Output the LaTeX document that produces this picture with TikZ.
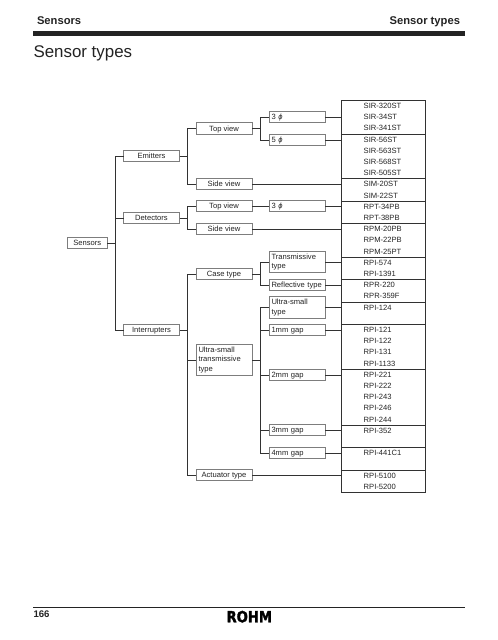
\documentclass[tikz,border=0pt]{standalone}
\usepackage{fontspec}
\usepackage{xcolor}
\usepackage{tikz}
\usetikzlibrary{positioning, fit}
\setmainfont{Liberation Sans}
\newfontfamily\logofont{DejaVu Sans}[BoldFeatures={FakeBold=2}]
\definecolor{softink}{RGB}{35,35,35}
\definecolor{boxgray}{RGB}{125,125,125}
\definecolor{linedark}{RGB}{50,50,50}

\begin{document}
\begin{tikzpicture}[
    every node/.style={font=\fontsize{7.6}{9.3}\selectfont, text=softink, inner sep=0pt, outer sep=0pt},
    levelbox/.style={
        rectangle,
        draw=boxgray,
        line width=0.7pt,
        fill=white,
        align=center,
        text height=5.4pt,
        text depth=0pt,
        minimum width=56pt,
        minimum height=11.5pt
    },
    rootbox/.style={
        levelbox,
        minimum width=39.5pt
    },
    notebox/.style={
        rectangle,
        draw=boxgray,
        line width=0.7pt,
        fill=white,
        align=left,
        text width=51pt,
        minimum height=11.5pt,
        inner xsep=2.5pt,
        inner ysep=2.5pt
    },
    noteline/.style={
        notebox,
        inner ysep=1.5pt,
        text height=5.4pt,
        text depth=0pt
    },
    tablegroup/.style={
        rectangle,
        draw=linedark,
        line width=0.5pt,
        font=\fontsize{7.6}{11.2}\selectfont,
        align=left,
        text width=39.3pt,
        inner xsep=22pt,
        minimum height=#1*11.2pt
    },
    tableframe/.style={
        rectangle,
        draw=linedark,
        line width=1pt,
        inner sep=0pt
    },
    link/.style={draw=linedark, line width=0.8pt},
    pagehead/.style={font=\fontsize{11.2}{13}\selectfont\bfseries}
]

\useasboundingbox (0,0) rectangle (498pt,-640pt);

\node[pagehead, anchor=base west] (headleft) at (37pt,-24.3pt) {Sensors};
\node[pagehead, anchor=base east] (headright) at (460pt,-24.3pt) {Sensor types};
\node[fill=softink, minimum width=432pt, minimum height=4.7pt] (headbar) at (249pt,-33.5pt) {};
\node[anchor=base west, font=\fontsize{16.9}{20}\selectfont] (pagetitle) at (33.5pt,-57.3pt) {Sensor types};

\node[rootbox] (sensors) at (87.25pt,-243pt) {Sensors};
\node[levelbox, right=16.5pt of sensors, yshift=87pt] (emitters) {Emitters};
\node[levelbox, right=16.5pt of sensors, yshift=25pt] (detectors) {Detectors};
\node[levelbox, right=16.5pt of sensors, yshift=-87pt] (interrupters) {Interrupters};

\node[levelbox, right=16.5pt of emitters, yshift=27.5pt] (emittop) {Top view};
\node[levelbox, right=16.5pt of emitters, yshift=-28pt] (emitside) {Side view};
\node[levelbox, right=16.5pt of detectors, yshift=12pt] (dettop) {Top view};
\node[levelbox, right=16.5pt of detectors, yshift=-11pt] (detside) {Side view};
\node[levelbox, right=16.5pt of interrupters, yshift=56pt] (casetype) {Case type};
\node[notebox, right=16.5pt of interrupters, yshift=-30pt] (ultratrans) {Ultra-small\\transmissive\\type};
\node[levelbox, right=16.5pt of interrupters, yshift=-145pt] (actuator) {Actuator type};

\node[noteline, right=17pt of emittop, yshift=11.5pt] (threeA) {3 \textit{ϕ}};
\node[noteline, right=17pt of emittop, yshift=-11.5pt] (fiveA) {5 \textit{ϕ}};
\node[noteline, right=17pt of dettop] (threeB) {3 \textit{ϕ}};
\node[notebox, right=17pt of casetype, yshift=12pt] (transmissive) {Transmissive\\type};
\node[noteline, right=17pt of casetype, yshift=-11pt] (reflective) {\mbox{Reflective type}};
\node[notebox, right=17pt of ultratrans, yshift=52.5pt] (ultrasmall) {Ultra-small\\type};
\node[noteline, right=17pt of ultratrans, yshift=30pt] (gapone) {1mm gap};
\node[noteline, right=17pt of ultratrans, yshift=-15pt] (gaptwo) {2mm gap};
\node[noteline, right=17pt of ultratrans, yshift=-70pt] (gapthree) {3mm gap};
\node[noteline, right=17pt of ultratrans, yshift=-93pt] (gapfour) {4mm gap};

\node[tablegroup=3, right=16.7pt of threeA] (groupA) {SIR-320ST\\SIR-34ST\\SIR-341ST};
\node[tablegroup=4, below=0pt of groupA] (groupB) {SIR-56ST\\SIR-563ST\\SIR-568ST\\SIR-505ST};
\node[tablegroup=2, below=0pt of groupB] (groupC) {SIM-20ST\\SIM-22ST};
\node[tablegroup=2, below=0pt of groupC] (groupD) {RPT-34PB\\RPT-38PB};
\node[tablegroup=3, below=0pt of groupD] (groupE) {RPM-20PB\\RPM-22PB\\RPM-25PT};
\node[tablegroup=2, below=0pt of groupE] (groupF) {RPI-574\\RPI-1391};
\node[tablegroup=2, below=0pt of groupF] (groupG) {RPR-220\\RPR-359F};
\node[tablegroup=2, below=0pt of groupG] (groupH) {RPI-124\\\phantom{R}};
\node[tablegroup=4, below=0pt of groupH] (groupI) {RPI-121\\RPI-122\\RPI-131\\RPI-1133};
\node[tablegroup=5, below=0pt of groupI] (groupJ) {RPI-221\\RPI-222\\RPI-243\\RPI-246\\RPI-244};
\node[tablegroup=2, below=0pt of groupJ] (groupK) {RPI-352\\\phantom{R}};
\node[tablegroup=2, below=0pt of groupK] (groupL) {RPI-441C1\\\phantom{R}};
\node[tablegroup=2, below=0pt of groupL] (groupM) {RPI-5100\\RPI-5200};
\node[tableframe, fit=(groupA)(groupM)] (sensortable) {};

\coordinate[right=8pt of sensors] (sensorsjoint);
\coordinate[right=8pt of emitters] (emittersjoint);
\coordinate[right=8pt of detectors] (detectorsjoint);
\coordinate[right=8pt of interrupters] (interruptersjoint);
\coordinate[right=8pt of emittop] (emittopjoint);
\coordinate[right=8pt of casetype] (casejoint);
\coordinate[right=8pt of ultratrans] (ultrajoint);

\draw[link] (sensors) -- (sensorsjoint);
\draw[link] (sensorsjoint) |- (emitters);
\draw[link] (sensorsjoint) |- (detectors);
\draw[link] (sensorsjoint) |- (interrupters);

\draw[link] (emitters) -- (emittersjoint);
\draw[link] (emittersjoint) |- (emittop);
\draw[link] (emittersjoint) |- (emitside);
\draw[link] (detectors) -- (detectorsjoint);
\draw[link] (detectorsjoint) |- (dettop);
\draw[link] (detectorsjoint) |- (detside);
\draw[link] (interrupters) -- (interruptersjoint);
\draw[link] (interruptersjoint) |- (casetype);
\draw[link] (interruptersjoint) |- (ultratrans);
\draw[link] (interruptersjoint) |- (actuator);

\draw[link] (emittop) -- (emittopjoint);
\draw[link] (emittopjoint) |- (threeA);
\draw[link] (emittopjoint) |- (fiveA);
\draw[link] (dettop) -- (threeB);
\draw[link] (casetype) -- (casejoint);
\draw[link] (casejoint) |- (transmissive);
\draw[link] (casejoint) |- (reflective);
\draw[link] (ultratrans) -- (ultrajoint);
\draw[link] (ultrajoint) |- (ultrasmall);
\draw[link] (ultrajoint) |- (gapone);
\draw[link] (ultrajoint) |- (gaptwo);
\draw[link] (ultrajoint) |- (gapthree);
\draw[link] (ultrajoint) |- (gapfour);

\draw[link] (threeA.east) -- (threeA.east -| sensortable.west);
\draw[link] (fiveA.east) -- (fiveA.east -| sensortable.west);
\draw[link] (threeB.east) -- (threeB.east -| sensortable.west);
\draw[link] (emitside.east) -- (emitside.east -| sensortable.west);
\draw[link] (detside.east) -- (detside.east -| sensortable.west);
\draw[link] (transmissive.east) -- (transmissive.east -| sensortable.west);
\draw[link] (reflective.east) -- (reflective.east -| sensortable.west);
\draw[link] (ultrasmall.east) -- (ultrasmall.east -| sensortable.west);
\draw[link] (gapone.east) -- (gapone.east -| sensortable.west);
\draw[link] (gaptwo.east) -- (gaptwo.east -| sensortable.west);
\draw[link] (gapthree.east) -- (gapthree.east -| sensortable.west);
\draw[link] (gapfour.east) -- (gapfour.east -| sensortable.west);
\draw[link] (actuator.east) -- (actuator.east -| sensortable.west);

\node[fill=softink, minimum width=432pt, minimum height=0.9pt] (footrule) at (249pt,-607.3pt) {};
\node[anchor=base west, font=\fontsize{9.6}{11}\selectfont\bfseries] (pagenumber) at (33.5pt,-617.7pt) {166};
\node[anchor=base, text=black, xscale=0.85, font=\fontsize{15.5}{15.5}\selectfont\logofont\bfseries] (logo) at (249.3pt,-622.3pt) {ROHM};

\end{tikzpicture}
\end{document}
